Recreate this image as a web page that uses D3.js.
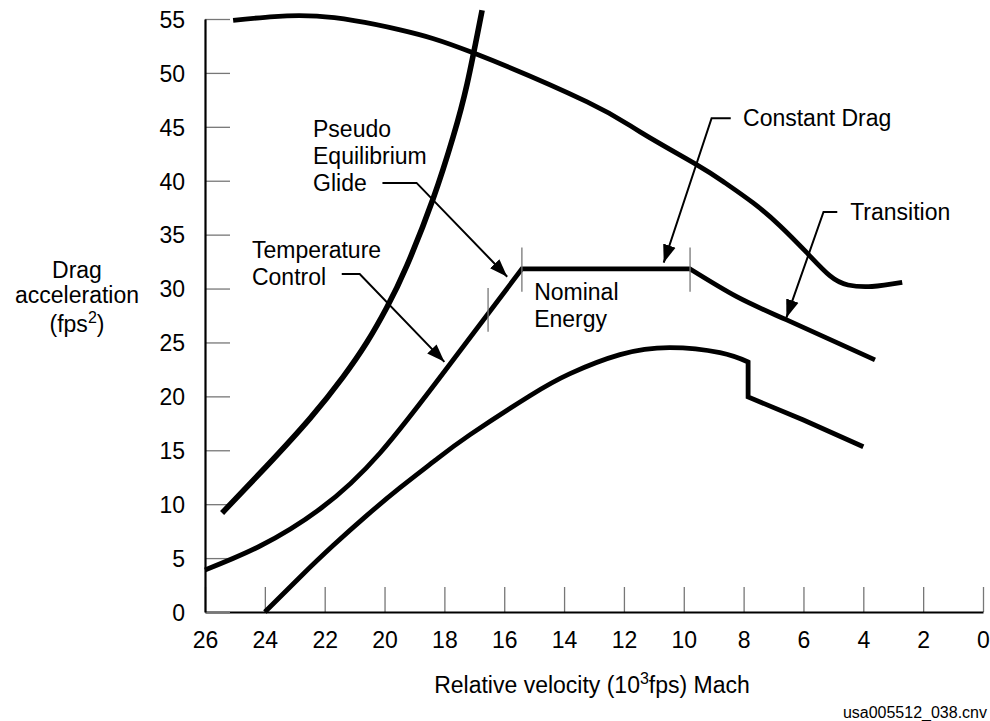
<!DOCTYPE html>
<html>
<head>
<meta charset="utf-8">
<script src="https://cdn.jsdelivr.net/npm/d3@7"></script>
<style>
  html, body { margin: 0; padding: 0; background: #fff; }
  svg { display: block; font-family: "Liberation Sans", Arial, Helvetica, sans-serif; }
</style>
</head>
<body>
<svg id="chart" width="990" height="721"></svg>
<script>
// ---------- data ----------
const velocityTicks = [26, 24, 22, 20, 18, 16, 14, 12, 10, 8, 6, 4, 2, 0];
const accelTicks = [0, 5, 10, 15, 20, 25, 30, 35, 40, 45, 50, 55];

// Temperature limit (steep left curve)
const tempLimit = [[25.43, 9.18], [23.96, 13.47], [22.49, 17.96], [21.39, 21.78], [20.59, 25.01],
  [19.92, 28.26], [19.25, 32.15], [18.38, 38.3], [17.71, 44.05], [17.24, 48.99], [16.74, 55.81]];

// Upper boundary (falling top curve)
const upperLimit = [[25.06, 54.87], [22.26, 55.26], [19.48, 53.99], [17.04, 51.86], [13.23, 47.31],
  [11.46, 44.53], [9.56, 41.47], [8.62, 39.8], [7.68, 37.94], [6.78, 35.81], [5.88, 33.3], [5.11, 31.17],
  [4.51, 30.33], [3.71, 30.19], [2.70, 30.57]];

// Nominal drag profile: temperature control / pseudo-equilibrium glide rise, constant drag, transition
const nominalRise = [[26.0, 3.9], [24.16, 6.12], [22.16, 9.55], [20.15, 14.75], [17.81, 23.0], [15.41, 31.82]];
const nominalFlat = [[15.41, 31.82], [9.79, 31.82]];
const nominalTransition = [[9.79, 31.82], [8.23, 29.25], [6.56, 27.09], [3.61, 23.38]];

// Lower boundary (with step near 8)
const lowerRise = [[24.0, 0.0], [22.82, 3.25], [21.72, 6.16], [20.59, 8.96], [19.48, 11.53], [18.31, 14.06],
  [17.14, 16.45], [15.14, 20.06], [13.8, 22.11], [12.13, 23.87], [10.46, 24.52], [8.79, 24.05], [7.85, 23.19]];
const lowerStep = [[7.85, 23.19], [7.85, 19.94]];
const lowerTail = [[7.85, 19.94], [6.0, 17.81], [4.0, 15.33]];

// Phase boundary marks [velocity, y from, y to]
const phaseMarks = [[16.54, 26.0, 30.06], [15.41, 29.7, 33.8], [9.79, 29.7, 33.8]];

// Annotations (text in data coordinates, leaders as polylines ending in an arrow)
const annotations = [
  { lines: ["Pseudo", "Equilibrium", "Glide"], x: 22.39, y: 44.06,
    leader: [[20.07, 39.8], [18.93, 39.8], [15.9, 31.1]] },
  { lines: ["Temperature", "Control"], x: 24.43, y: 32.84,
    leader: [[21.43, 31.35], [20.83, 31.35], [18.0, 23.2]] },
  { lines: ["Constant Drag"], x: 8.02, y: 45.08,
    leader: [[8.43, 45.8], [9.07, 45.8], [10.67, 32.4]] },
  { lines: ["Transition"], x: 4.44, y: 36.36,
    leader: [[4.87, 37.1], [5.33, 37.1], [6.57, 27.3]] },
  { lines: ["Nominal", "Energy"], x: 15.0, y: 28.94, leader: null }
];

// ---------- layout ----------
const svg = d3.select("#chart");
const FONT = 23;
const x = d3.scaleLinear().domain([26, 0]).range([205, 983]);
const y = d3.scaleLinear().domain([0, 55]).range([612, 19]);

// defs: arrowhead
svg.append("defs").append("marker")
  .attr("id", "arrow")
  .attr("markerUnits", "userSpaceOnUse")
  .attr("viewBox", "0 -7 18 14")
  .attr("refX", 18).attr("refY", 0)
  .attr("markerWidth", 18).attr("markerHeight", 14)
  .attr("orient", "auto")
  .append("path").attr("d", "M0,-6.5L18,0L0,6.5Z").attr("fill", "#000");

// axes
const xAxis = d3.axisBottom(x).tickValues(velocityTicks).tickSize(-25).tickSizeOuter(0).tickPadding(20)
  .tickFormat(d3.format("d"));
const yAxis = d3.axisLeft(y).tickValues(accelTicks).tickSize(-25).tickSizeOuter(0).tickPadding(20)
  .tickFormat(d3.format("d"));

const gx = svg.append("g").attr("transform", `translate(0,${y(0)})`).call(xAxis);
const gy = svg.append("g").attr("transform", `translate(${x(26)},0)`).call(yAxis);
[gx, gy].forEach(g => {
  g.select(".domain").attr("stroke", "#000").attr("stroke-width", 2.2);
  g.selectAll(".tick line").attr("stroke", "#777").attr("stroke-width", 1.3);
  g.selectAll(".tick text").attr("fill", "#000").attr("font-size", FONT)
    .attr("font-family", "Liberation Sans, Arial, sans-serif");
});
gy.selectAll(".tick text").attr("dy", "0.36em");
gx.select(".domain").raise();
gy.select(".domain").raise();

// curves
const smooth = d3.line().x(d => x(d[0])).y(d => y(d[1])).curve(d3.curveNatural);
const straight = d3.line().x(d => x(d[0])).y(d => y(d[1]));
function joined(pieces) {
  return pieces.map((p, i) => {
    const s = p[0](p[1]);
    return i === 0 ? s : s.replace(/^M[-\d.,e]+/, "");
  }).join("");
}

const curveG = svg.append("g").attr("fill", "none").attr("stroke", "#000")
  .attr("stroke-width", 4.8).attr("stroke-linejoin", "miter");
curveG.append("path").attr("d", smooth(tempLimit)).attr("stroke-width", 5.6);
curveG.append("path").attr("d", smooth(upperLimit));
curveG.append("path").attr("d", joined([[smooth, nominalRise], [straight, nominalFlat], [smooth, nominalTransition]]));
curveG.append("path").attr("d", joined([[smooth, lowerRise], [straight, lowerStep], [straight, lowerTail]]));

// phase marks
svg.append("g").selectAll("line").data(phaseMarks).join("line")
  .attr("x1", d => x(d[0])).attr("x2", d => x(d[0]))
  .attr("y1", d => y(d[1])).attr("y2", d => y(d[2]))
  .attr("stroke", "#777").attr("stroke-width", 1.3);

// annotations
const lineStep = 27;
const annG = svg.append("g");
annotations.forEach(a => {
  const t = annG.append("text").attr("x", x(a.x)).attr("y", y(a.y)).attr("font-size", FONT).attr("fill", "#000");
  a.lines.forEach((l, i) => {
    t.append("tspan").attr("x", x(a.x)).attr("dy", i === 0 ? 0 : lineStep).text(l);
  });
  if (a.leader) {
    annG.append("path").attr("d", straight(a.leader)).attr("fill", "none")
      .attr("stroke", "#000").attr("stroke-width", 2).attr("marker-end", "url(#arrow)");
  }
});

// axis titles
const xt = svg.append("text").attr("x", 592).attr("y", 693).attr("text-anchor", "middle")
  .attr("font-size", FONT).attr("fill", "#000");
xt.append("tspan").text("Relative velocity (10");
xt.append("tspan").attr("font-size", 16).attr("dy", -9).text("3");
xt.append("tspan").attr("dy", 9).text("fps) Mach");

const yt = svg.append("text").attr("text-anchor", "middle").attr("font-size", FONT).attr("fill", "#000");
yt.append("tspan").attr("x", 77).attr("y", 278).text("Drag");
yt.append("tspan").attr("x", 77).attr("y", 303).text("acceleration");
yt.append("tspan").attr("x", 77).attr("y", 332).text("(fps");
yt.append("tspan").attr("font-size", 16).attr("dy", -9).text("2");
yt.append("tspan").attr("dy", 9).text(")");

// footer
svg.append("text").attr("x", 987).attr("y", 718).attr("text-anchor", "end")
  .attr("font-size", 16).attr("fill", "#000").text("usa005512_038.cnv");
</script>
</body>
</html>
